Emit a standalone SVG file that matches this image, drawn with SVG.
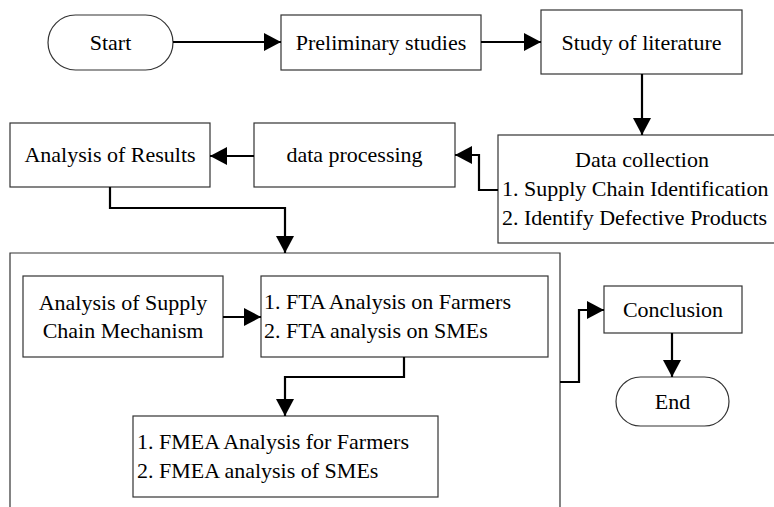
<svg xmlns="http://www.w3.org/2000/svg" width="774" height="507" viewBox="0 0 774 507">
<defs>
<marker id="ah" markerUnits="userSpaceOnUse" markerWidth="18" markerHeight="18" refX="17" refY="9" orient="auto">
<path d="M0,0 L17,9 L0,18 z" fill="#000"/>
</marker>
</defs>
<g id="nodes" font-family="Liberation Serif" font-size="22" fill="#000">
<g id="container"><path d="M10,510 V253 H560 V510" fill="none" stroke="#333" stroke-width="1.2"/></g>
<g id="start"><rect x="48" y="15" width="125" height="55" rx="27.5" fill="#fff" stroke="#333" stroke-width="1.2"/><text x="110.5" y="50" text-anchor="middle">Start</text></g>
<g id="prelim"><rect x="281" y="15" width="200" height="55" fill="#fff" stroke="#333" stroke-width="1.2"/><text x="381" y="50" text-anchor="middle">Preliminary studies</text></g>
<g id="literature"><rect x="541" y="10" width="201" height="64" fill="#fff" stroke="#333" stroke-width="1.2"/><text x="641.5" y="50" text-anchor="middle">Study of literature</text></g>
<g id="datacollection"><rect x="498" y="135" width="280" height="108" fill="#fff" stroke="#333" stroke-width="1.2"/><text x="642" y="167" text-anchor="middle">Data collection</text><text x="502" y="196">1. Supply Chain Identification</text><text x="502" y="225">2. Identify Defective Products</text></g>
<g id="dataprocessing"><rect x="254" y="123" width="201" height="64" fill="#fff" stroke="#333" stroke-width="1.2"/><text x="354.5" y="162" text-anchor="middle">data processing</text></g>
<g id="results"><rect x="10" y="123" width="200" height="64" fill="#fff" stroke="#333" stroke-width="1.2"/><text x="110" y="162" text-anchor="middle">Analysis of Results</text></g>
<g id="supplychain"><rect x="23" y="276" width="200" height="81" fill="#fff" stroke="#333" stroke-width="1.2"/><text x="123" y="310" text-anchor="middle">Analysis of Supply</text><text x="123" y="338" text-anchor="middle">Chain Mechanism</text></g>
<g id="fta"><rect x="261" y="276" width="287" height="81" fill="#fff" stroke="#333" stroke-width="1.2"/><text x="264" y="309">1. FTA Analysis on Farmers</text><text x="264" y="338">2. FTA analysis on SMEs</text></g>
<g id="fmea"><rect x="133" y="416" width="305" height="81" fill="#fff" stroke="#333" stroke-width="1.2"/><text x="137" y="449">1. FMEA Analysis for Farmers</text><text x="137" y="478">2. FMEA analysis of SMEs</text></g>
<g id="conclusion"><rect x="604" y="286" width="138" height="47" fill="#fff" stroke="#333" stroke-width="1.2"/><text x="673" y="317" text-anchor="middle">Conclusion</text></g>
<g id="end"><rect x="616" y="377" width="113" height="49" rx="24.5" fill="#fff" stroke="#333" stroke-width="1.2"/><text x="672.5" y="409" text-anchor="middle">End</text></g>
</g>
<g id="connectors" fill="none" stroke="#000" stroke-width="2.2">
<path d="M173,42 H281" marker-end="url(#ah)"/>
<path d="M481,42 H541" marker-end="url(#ah)"/>
<path d="M642,74 V135" marker-end="url(#ah)"/>
<path d="M498,190 H479 V155 H455" marker-end="url(#ah)"/>
<path d="M254,156 H210" marker-end="url(#ah)"/>
<path d="M110,187 V208 H285 V253" marker-end="url(#ah)"/>
<path d="M223,317 H261" marker-end="url(#ah)"/>
<path d="M404,357 V377 H285 V416" marker-end="url(#ah)"/>
<path d="M560,382 H579 V310 H604" marker-end="url(#ah)"/>
<path d="M672,333 V377" marker-end="url(#ah)"/>
</g>
</svg>
